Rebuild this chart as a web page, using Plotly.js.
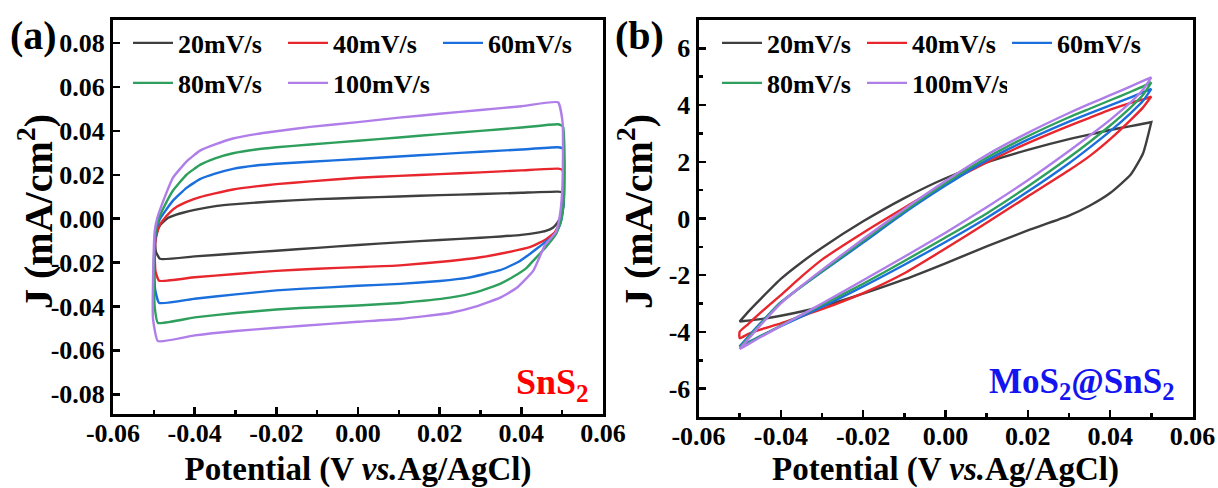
<!DOCTYPE html>
<html><head><meta charset="utf-8">
<script src="https://cdn.plot.ly/plotly-3.0.1.min.js"></script>
<style>html,body{margin:0;padding:0;background:#fff}#chart{width:1218px;height:488px}</style>
</head><body><div id="chart"></div>
<script>
// ---------- shared ----------
const scanRates = ['20mV/s', '40mV/s', '60mV/s', '80mV/s', '100mV/s'];
const seriesColors = ['#3f3f3f', '#e8262d', '#1a6fdc', '#2e9f5c', '#b07ee8'];

const potentialTicks = [-0.06, -0.04, -0.02, 0.00, 0.02, 0.04, 0.06];
const potentialTickLabels = ['-0.06', '-0.04', '-0.02', '0.00', '0.02', '0.04', '0.06'];
const potentialMinor = [-0.05, -0.03, -0.01, 0.01, 0.03, 0.05];

// ---------- panel (a) SnS2 : closed CV loops (V, mA/cm2) ----------
const snsTicks = [-0.08, -0.06, -0.04, -0.02, 0.00, 0.02, 0.04, 0.06, 0.08];
const snsTickLabels = ['-0.08', '-0.06', '-0.04', '-0.02', '0.00', '0.02', '0.04', '0.06', '0.08'];

const snsV20 = [-0.0485, -0.0495, -0.0497, -0.0493, -0.0485, -0.0468, -0.0445, -0.0429, -0.040, -0.0345, -0.030, -0.022, -0.010, 0.000, 0.010, 0.020, 0.030, 0.040, 0.049, 0.0500, 0.0503, 0.0497, 0.0488, 0.0478, 0.046, 0.044, 0.040, 0.035, 0.030, 0.020, 0.010, 0.000, -0.010, -0.020, -0.030, -0.040, -0.0485];
const snsJ20 = [-0.0183, -0.0150, -0.0105, -0.0065, -0.0030, 0.0000, 0.0018, 0.0027, 0.0040, 0.0058, 0.0066, 0.0077, 0.0089, 0.0095, 0.0101, 0.0107, 0.0112, 0.0118, 0.0123, 0.0119, 0.0060, 0.0012, -0.0020, -0.0040, -0.0056, -0.0064, -0.0074, -0.0081, -0.0087, -0.0097, -0.0108, -0.0120, -0.0133, -0.0146, -0.0159, -0.0172, -0.0183];

const snsV40 = [-0.0487, -0.0496, -0.0498, -0.0494, -0.0486, -0.0478, -0.0460, -0.0443, -0.0415, -0.0387, -0.035, -0.0306, -0.025, -0.020, -0.0117, 0.000, 0.010, 0.020, 0.030, 0.040, 0.049, 0.0501, 0.0504, 0.0501, 0.0494, 0.0482, 0.046, 0.0421, 0.0348, 0.030, 0.0225, 0.0103, 0.000, -0.010, -0.020, -0.030, -0.040, -0.0487];
const snsJ40 = [-0.0283, -0.0240, -0.0150, -0.0080, -0.0030, -0.0008, 0.0030, 0.0055, 0.0080, 0.0098, 0.0115, 0.0133, 0.0147, 0.0157, 0.0170, 0.0186, 0.0195, 0.0203, 0.0211, 0.0220, 0.0228, 0.0222, 0.0120, 0.0040, -0.0020, -0.0062, -0.0095, -0.0130, -0.0160, -0.0176, -0.0193, -0.0213, -0.0221, -0.0228, -0.0238, -0.0252, -0.0267, -0.0283];

const snsV60 = [-0.0487, -0.0497, -0.0499, -0.0495, -0.0486, -0.0470, -0.0453, -0.0420, -0.0387, -0.035, -0.0306, -0.025, -0.020, -0.0117, 0.000, 0.010, 0.020, 0.030, 0.040, 0.049, 0.0502, 0.0505, 0.0503, 0.0496, 0.0482, 0.0460, 0.0446, 0.0420, 0.0390, 0.0348, 0.0267, 0.020, 0.0103, 0.000, -0.0142, -0.020, -0.030, -0.040, -0.0487];
const snsJ60 = [-0.0384, -0.0320, -0.0170, -0.0060, -0.0005, 0.0040, 0.0082, 0.0140, 0.0180, 0.0205, 0.0227, 0.0242, 0.0250, 0.0259, 0.0272, 0.0283, 0.0294, 0.0305, 0.0315, 0.0325, 0.0318, 0.0180, 0.0060, -0.0020, -0.0075, -0.0105, -0.0125, -0.0162, -0.0200, -0.0235, -0.0270, -0.0284, -0.0297, -0.0306, -0.0320, -0.0327, -0.0345, -0.0365, -0.0384];

const snsV80 = [-0.0490, -0.0498, -0.0500, -0.0496, -0.0488, -0.0472, -0.0453, -0.0420, -0.0387, -0.035, -0.0306, -0.025, -0.020, -0.0117, 0.000, 0.010, 0.020, 0.030, 0.040, 0.049, 0.0502, 0.0506, 0.0504, 0.0497, 0.0485, 0.0460, 0.0430, 0.0413, 0.0380, 0.0348, 0.0290, 0.0225, 0.0103, 0.000, -0.0142, -0.020, -0.030, -0.040, -0.0490];
const snsJ80 = [-0.0475, -0.0400, -0.0200, -0.0060, 0.0000, 0.0065, 0.0128, 0.0200, 0.0245, 0.0275, 0.0298, 0.0315, 0.0325, 0.0338, 0.0355, 0.0370, 0.0385, 0.0400, 0.0415, 0.0430, 0.0420, 0.0250, 0.0080, -0.0010, -0.0070, -0.0130, -0.0190, -0.0224, -0.0265, -0.0297, -0.0335, -0.0360, -0.0384, -0.0396, -0.0407, -0.0414, -0.0430, -0.0450, -0.0475];

const snsV100 = [-0.0490, -0.0502, -0.0501, -0.0498, -0.0492, -0.0475, -0.0453, -0.0420, -0.0387, -0.035, -0.0306, -0.025, -0.020, -0.0117, 0.000, 0.010, 0.020, 0.030, 0.040, 0.049, 0.0501, 0.0502, 0.0500, 0.0494, 0.0485, 0.0458, 0.0429, 0.0389, 0.0348, 0.0290, 0.0225, 0.0103, 0.000, -0.0142, -0.020, -0.030, -0.040, -0.0490];
const snsJ100 = [-0.0558, -0.0457, -0.0200, -0.0060, 0.0000, 0.0090, 0.0187, 0.0260, 0.0310, 0.0338, 0.0365, 0.0385, 0.0398, 0.0418, 0.0440, 0.0460, 0.0478, 0.0495, 0.0512, 0.0530, 0.0440, 0.0280, 0.0120, 0.0010, -0.0060, -0.0120, -0.0238, -0.0315, -0.0360, -0.0400, -0.0430, -0.0457, -0.0470, -0.0489, -0.0497, -0.0512, -0.0532, -0.0558];

// ---------- panel (b) MoS2@SnS2 ----------
const mosTicks = [-6, -4, -2, 0, 2, 4, 6];
const mosTickLabels = ['-6', '-4', '-2', '0', '2', '4', '6'];
const mosMinor = [-5, -3, -1, 1, 3, 5];

// potentials shared by both branches (V)
const mosV = [-0.05, -0.048, -0.045, -0.04, -0.035, -0.03, -0.02, -0.01, 0, 0.01, 0.02, 0.03, 0.035, 0.04, 0.045, 0.048, 0.05];
// anodic (upper) and cathodic (lower) branches, mA/cm2, at mosV
const mosUp20  = [-3.63, -3.30, -2.85, -2.13, -1.55, -1.03, -0.10, 0.72, 1.42, 1.98, 2.42, 2.80, 2.96, 3.12, 3.26, 3.34, 3.40];
const mosLow20 = [-3.63, -3.60, -3.55, -3.43, -3.28, -3.10, -2.65, -2.15, -1.58, -0.98, -0.42, 0.10, 0.45, 0.90, 1.55, 2.30, 3.40];
const mosUp40  = [-3.99, -3.73, -3.33, -2.70, -2.05, -1.45, -0.50, 0.38, 1.22, 1.98, 2.66, 3.27, 3.55, 3.84, 4.08, 4.20, 4.30];
const mosLow40 = [-4.22, -4.08, -3.92, -3.70, -3.45, -3.20, -2.63, -1.93, -1.06, -0.15, 0.78, 1.70, 2.20, 2.80, 3.48, 3.92, 4.30];
const mosUp60  = [-4.51, -4.18, -3.70, -2.95, -2.40, -1.88, -0.85, 0.20, 1.16, 2.05, 2.78, 3.42, 3.71, 3.99, 4.27, 4.45, 4.57];
const mosLow60 = [-4.51, -4.37, -4.15, -3.80, -3.46, -3.12, -2.40, -1.63, -0.83, 0.02, 0.95, 1.95, 2.50, 3.08, 3.72, 4.15, 4.57];
const mosUp80  = [-4.55, -4.22, -3.73, -2.97, -2.40, -1.85, -0.79, 0.26, 1.24, 2.14, 2.90, 3.57, 3.87, 4.17, 4.47, 4.66, 4.80];
const mosLow80 = [-4.55, -4.40, -4.16, -3.78, -3.41, -3.05, -2.30, -1.50, -0.67, 0.18, 1.13, 2.15, 2.70, 3.28, 3.92, 4.36, 4.80];
const mosUp100  = [-4.60, -4.27, -3.77, -2.99, -2.38, -1.81, -0.72, 0.33, 1.32, 2.24, 3.02, 3.72, 4.04, 4.35, 4.66, 4.85, 4.98];
const mosLow100 = [-4.60, -4.44, -4.19, -3.79, -3.40, -3.00, -2.18, -1.35, -0.50, 0.40, 1.35, 2.38, 2.92, 3.48, 4.10, 4.55, 4.98];

// ---------- build ----------
const FONT = 'Liberation Serif, "Times New Roman", serif';
const snsLoops = [[snsV20, snsJ20], [snsV40, snsJ40], [snsV60, snsJ60], [snsV80, snsJ80], [snsV100, snsJ100]];
const mosBranches = [[mosUp20, mosLow20], [mosUp40, mosLow40], [mosUp60, mosLow60], [mosUp80, mosLow80], [mosUp100, mosLow100]];

const traces = [];
snsLoops.forEach((p, i) => {
  traces.push({
    x: p[0], y: p[1], type: 'scatter', mode: 'lines', name: scanRates[i],
    line: {color: seriesColors[i], width: 2.4, shape: 'spline', smoothing: 0.4}, xaxis: 'x', yaxis: 'y',
    legend: i < 3 ? 'legend' : 'legend2'
  });
});
mosBranches.forEach((b, i) => {
  const xs = mosV.concat(mosV.slice().reverse()).concat([mosV[0]]);
  const ys = b[0].concat(b[1].slice().reverse()).concat([b[0][0]]);
  traces.push({
    x: xs, y: ys, type: 'scatter', mode: 'lines', name: scanRates[i],
    line: {color: seriesColors[i], width: 2.4, shape: 'spline', smoothing: 0.5}, xaxis: 'x2', yaxis: 'y2',
    legend: i < 3 ? 'legend3' : 'legend4'
  });
});

const W = 1218, H = 488;
const tickFont = {family: FONT, size: 26, color: '#000', weight: 'bold'};
const titleFont = {family: FONT, size: 33, color: '#000', weight: 'bold'};

function xAxis(domain) {
  return {
    domain: domain, range: [-0.06, 0.06], tickmode: 'array', tickvals: potentialTicks, ticktext: potentialTickLabels,
    ticks: 'inside', ticklen: 7, tickwidth: 2.5, tickcolor: '#000',
    minor: {tickmode: 'array', tickvals: potentialMinor, ticks: 'inside', ticklen: 4, tickwidth: 2.5, tickcolor: '#000'},
    showline: true, linewidth: 3, linecolor: '#000', mirror: true,
    showgrid: false, zeroline: false, tickfont: tickFont, ticklabelstandoff: -6,
    title: {text: 'Potential (V <i>vs.</i>Ag/AgCl)', font: titleFont, standoff: 14}
  };
}
function yAxis(domain, range, vals, labels, minor, anchor) {
  const ax = {
    domain: domain, range: range, tickmode: 'array', tickvals: vals, ticktext: labels,
    ticks: 'inside', ticklen: 7, tickwidth: 2.5, tickcolor: '#000',
    showline: true, linewidth: 3, linecolor: '#000', mirror: true,
    showgrid: false, zeroline: false, tickfont: tickFont, ticklabelstandoff: 0,
    anchor: anchor
  };
  if (minor) ax.minor = {tickmode: 'array', tickvals: minor, ticks: 'inside', ticklen: 4, tickwidth: 2.5, tickcolor: '#000'};
  return ax;
}
function legendAt(xpx, ypx, entry) {
  return {
    x: xpx / W, y: 1 - ypx / H, xref: 'paper', yref: 'paper', xanchor: 'left', yanchor: 'middle',
    orientation: 'h', bgcolor: 'rgba(0,0,0,0)', borderwidth: 0,
    font: {family: FONT, size: 26, color: '#000', weight: 'bold'},
    entrywidth: entry, itemwidth: 40, tracegroupgap: 0
  };
}
const yTitleFont = {family: FONT, size: 40, color: '#000', weight: 'bold'};

const layout = {
  width: W, height: H, margin: {l: 0, r: 0, t: 0, b: 0},
  paper_bgcolor: '#fff', plot_bgcolor: '#fff', font: {family: FONT},
  xaxis: xAxis([113 / W, 603 / W]),
  yaxis: yAxis([1 - 414 / H, 1 - 20 / H], [-0.089, 0.0905], snsTicks, snsTickLabels, null, 'x'),
  xaxis2: Object.assign(xAxis([698.5 / W, 1192.5 / W]), {anchor: 'y2'}),
  yaxis2: yAxis([1 - 417 / H, 1 - 20 / H], [-7, 7], mosTicks, mosTickLabels, mosMinor, 'x2'),
  legend: legendAt(128, 43, 100),
  legend2: legendAt(128, 83, 100),
  legend3: legendAt(717, 43, 90),
  legend4: legendAt(717, 83, 90),
  showlegend: true,
  annotations: [
    {text: 'J (mA/cm<sup>2</sup>)', textangle: -90, x: 36 / W, y: 1 - 212 / H, xref: 'paper', yref: 'paper',
     xanchor: 'center', yanchor: 'middle', showarrow: false, font: yTitleFont},
    {text: 'J (mA/cm<sup>2</sup>)', textangle: -90, x: 636 / W, y: 1 - 212 / H, xref: 'paper', yref: 'paper',
     xanchor: 'center', yanchor: 'middle', showarrow: false, font: yTitleFont},
    {text: '(a)', x: 8 / W, y: 1 - 35 / H, xref: 'paper', yref: 'paper', xanchor: 'left', yanchor: 'middle', showarrow: false,
     font: {family: FONT, size: 40, color: '#000', weight: 'bold'}},
    {text: '(b)', x: 613 / W, y: 1 - 35 / H, xref: 'paper', yref: 'paper', xanchor: 'left', yanchor: 'middle', showarrow: false,
     font: {family: FONT, size: 40, color: '#000', weight: 'bold'}},
    {text: 'SnS<sub>2</sub>', x: 591 / W, y: 1 - 384 / H, xref: 'paper', yref: 'paper', xanchor: 'right', yanchor: 'middle', showarrow: false,
     font: {family: FONT, size: 36, color: '#ff0000', weight: 'bold'}},
    {text: 'MoS<sub>2</sub>@SnS<sub>2</sub>', x: 1176 / W, y: 1 - 383 / H, xref: 'paper', yref: 'paper', xanchor: 'right', yanchor: 'middle', showarrow: false,
     font: {family: FONT, size: 35, color: '#1414f0', weight: 'bold'}}
  ]
};

Plotly.newPlot('chart', traces, layout, {staticPlot: true, displayModeBar: false});
</script></body></html>
